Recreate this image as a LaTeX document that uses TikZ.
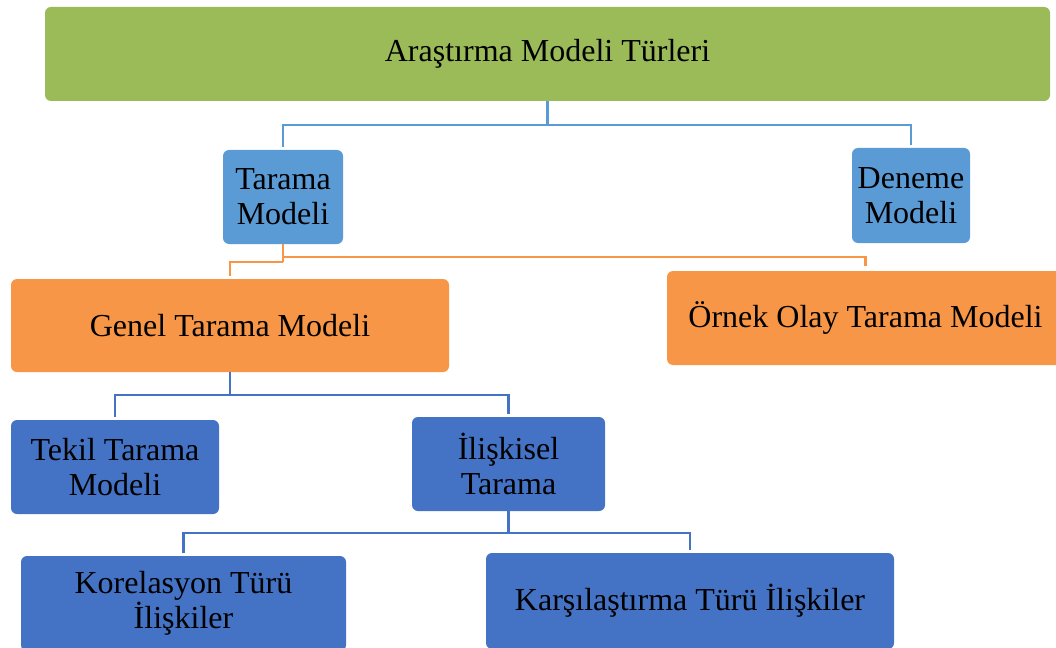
\documentclass[tikz,border=0pt]{standalone}
\usepackage{fontspec}
\setmainfont{Liberation Serif}
\definecolor{cgreen}{HTML}{9BBB59}
\definecolor{clblue}{HTML}{5B9BD5}
\definecolor{corange}{HTML}{F79646}
\definecolor{cblue}{HTML}{4472C4}
\begin{document}
\begin{tikzpicture}[x=1pt,y=-1pt,
  box/.style={rounded corners=6pt, align=center, inner sep=0pt, text=black,
    font=\fontsize{32}{35}\selectfont},
  lconn/.style={draw=clblue, line width=2.2pt, shorten >=3pt},
  oconn/.style={draw=corange, line width=2.2pt, shorten >=3pt},
  bconn/.style={draw=cblue, line width=2.2pt, shorten >=3pt}]
\useasboundingbox (0,0) rectangle (1056,647);
\clip (0,0) rectangle (1056,647);
\node[box, fill=cgreen, minimum width=1005pt, minimum height=94pt] (top) at (547.5,54) {Araştırma Modeli Türleri};
\node[box, fill=clblue, minimum width=120pt, minimum height=94pt] (tarama) at (283,197) {Tarama\\Modeli};
\node[box, fill=clblue, minimum width=118pt, minimum height=95pt] (deneme) at (911,195.5) {Deneme\\Modeli};
\node[box, fill=corange, minimum width=438pt, minimum height=93pt] (genel) at (230,325.5) {Genel Tarama Modeli};
\node[box, fill=corange, minimum width=397pt, minimum height=94pt] (ornek) at (865.5,318) {Örnek Olay Tarama Modeli};
\node[box, fill=cblue, minimum width=208pt, minimum height=94pt] (tekil) at (115,467) {Tekil Tarama\\Modeli};
\node[box, fill=cblue, minimum width=193pt, minimum height=94pt] (iliskisel) at (508.5,464) {İlişkisel\\Tarama};
\node[box, fill=cblue, minimum width=325pt, minimum height=95pt] (korelasyon) at (183.5,603.5) {Korelasyon Türü\\İlişkiler};
\node[box, fill=cblue, minimum width=408pt, minimum height=96pt] (karsi) at (690,601) {Karşılaştırma Türü İlişkiler};
% connectors
\draw[lconn, shorten >=0pt] (top.south) -- ++(0,24) coordinate (b1);
\draw[lconn] (b1) -| (tarama.north);
\draw[lconn] (b1) -| (deneme.north);
\draw[oconn, shorten >=0pt] (tarama.south) -- ++(0,13) coordinate (o1);
\draw[oconn, shorten >=5pt] (o1) -| (ornek.north);
\draw[oconn, shorten >=0pt] (o1) -- ++(0,5) coordinate (o2);
\draw[oconn] (o2) -| (genel.north);
\draw[bconn, shorten >=0pt] (genel.south) -- ++(0,23) coordinate (g1);
\draw[bconn] (g1) -| (tekil.north);
\draw[bconn] (g1) -| (iliskisel.north);
\draw[bconn, shorten >=0pt] (iliskisel.south) -- ++(0,22) coordinate (i1);
\draw[bconn] (i1) -| (korelasyon.north);
\draw[bconn] (i1) -| (karsi.north);
\end{tikzpicture}
\end{document}
